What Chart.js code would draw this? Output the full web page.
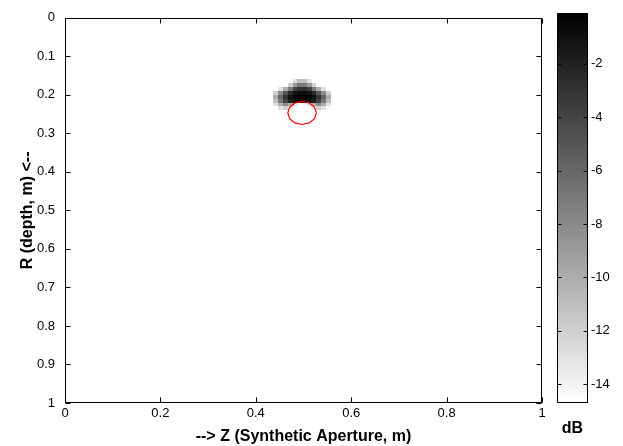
<!DOCTYPE html>
<html>
<head>
<meta charset="utf-8">
<script src="https://cdn.jsdelivr.net/npm/chart.js@4/dist/chart.umd.min.js"></script>
<style>
  html, body { margin: 0; padding: 0; background: #fff; }
  #wrap { position: relative; width: 623px; height: 446px; }
  #wrap canvas { position: absolute; left: 0; top: 0; }
</style>
</head>
<body>
<div id="wrap">
  <canvas id="imageChart" width="623" height="446"></canvas>
  <canvas id="colorbar" width="623" height="446"></canvas>
</div>
<script>
// axis ticks
const zTicks = [0, 0.2, 0.4, 0.6, 0.8, 1];
const rTicks = [0, 0.1, 0.2, 0.3, 0.4, 0.5, 0.6, 0.7, 0.8, 0.9, 1];
const cbTicks = [-14, -12, -10, -8, -6, -4, -2];

// colour limits of the image (dB)
const cbMin = -14.7;
const cbMax = -0.1;

// image cells around the target (cell centres in m, values in dB, null = below range)
const zCols = [0.442, 0.452, 0.462, 0.472, 0.482, 0.492, 0.502, 0.512, 0.522, 0.532, 0.542, 0.552];
const rRows = [0.165, 0.175, 0.185, 0.195, 0.205, 0.215, 0.225, 0.235];
const dBRows = [
  [null, null, null, null, -13, -11, -11, -13, null, null, null, null],
  [null, null, null, -12, -9, -7, -7, -9, -12, null, null, null],
  [null, -13, -10, -7, -4, -3, -3, -4, -7, -10, -13, null],
  [-12, -8, -5, -2.5, -1.2, -0.8, -0.8, -1.2, -2.5, -5, -8, -12],
  [-10, -6, -3, -1.2, -0.4, -0.1, -0.1, -0.4, -1.2, -3, -6, -10],
  [-11, -7, -4, -2, -1, -0.6, -0.6, -1, -2, -4, -7, -11],
  [-13, -10, -8, -10, -13, null, null, -13, -10, -8, -10, -13],
  [null, -13, -12, -14, null, null, null, null, -14, -12, -13, null]
];
const cellW = 0.01;
const cellH = 0.01;

// outline of the true target position
const circleZ = [0.527, 0.523, 0.512, 0.497, 0.482, 0.471, 0.467, 0.471, 0.482, 0.497, 0.512, 0.523, 0.527];
const circleR = [0.247, 0.262, 0.273, 0.277, 0.273, 0.262, 0.247, 0.232, 0.221, 0.217, 0.221, 0.232, 0.247];

Chart.defaults.font.family = "'Liberation Sans', Arial, sans-serif";
Chart.defaults.font.size = 13;
Chart.defaults.color = '#000';

const titleFont = { size: 16, weight: 'bold' };
const plainLabel = v => String(v);

const grayFor = (v) => {
  const c = Math.max(cbMin, Math.min(cbMax, v));
  const g = Math.round(255 * (cbMax - c) / (cbMax - cbMin));
  return `rgb(${g},${g},${g})`;
};

// paints the dB cells under the datasets
const heatmap = {
  id: 'heatmap',
  beforeDatasetsDraw(chart) {
    const { ctx, scales: { x, y } } = chart;
    ctx.save();
    rRows.forEach((r, i) => {
      zCols.forEach((z, j) => {
        const v = dBRows[i][j];
        if (v === null) return;
        const x0 = Math.round(x.getPixelForValue(z - cellW / 2));
        const x1 = Math.round(x.getPixelForValue(z + cellW / 2));
        const y0 = Math.round(y.getPixelForValue(r - cellH / 2));
        const y1 = Math.round(y.getPixelForValue(r + cellH / 2));
        ctx.fillStyle = grayFor(v);
        ctx.fillRect(x0, y0, x1 - x0, y1 - y0);
      });
    });
    ctx.restore();
  }
};

// box around the plot with inward tick marks
const boxTicks = {
  id: 'boxTicks',
  afterDraw(chart, args, opts) {
    const { ctx, chartArea: a } = chart;
    const L = Math.round(a.left) + 0.5, R = Math.round(a.right) - 0.5;
    const T = Math.round(a.top) + 0.5, B = Math.round(a.bottom) - 0.5;
    const len = opts.len || 5;
    ctx.save();
    ctx.strokeStyle = '#000';
    ctx.lineWidth = 1;
    ctx.strokeRect(L, T, R - L, B - T);
    ctx.beginPath();
    (opts.axes || []).forEach(id => {
      const sc = chart.scales[id];
      sc.ticks.forEach(t => {
        const p = Math.round(sc.getPixelForValue(t.value)) + 0.5;
        if (sc.isHorizontal()) {
          ctx.moveTo(p, T); ctx.lineTo(p, T + len);
          ctx.moveTo(p, B); ctx.lineTo(p, B - len);
        } else {
          ctx.moveTo(L, p); ctx.lineTo(L + len, p);
          ctx.moveTo(R, p); ctx.lineTo(R - len, p);
        }
      });
    });
    ctx.stroke();
    ctx.restore();
  }
};

new Chart(document.getElementById('imageChart'), {
  type: 'scatter',
  data: {
    datasets: [{
      data: circleZ.map((z, i) => ({ x: z, y: circleR[i] })),
      showLine: true,
      borderColor: '#ff0000',
      borderWidth: 1.2,
      pointRadius: 0,
      fill: false
    }]
  },
  options: {
    responsive: false,
    animation: false,
    layout: { padding: { left: 0, top: 13, right: 81, bottom: 0 } },
    plugins: { legend: { display: false }, tooltip: { enabled: false }, boxTicks: { len: 5, axes: ['x', 'y'] } },
    scales: {
      x: {
        type: 'linear', min: 0, max: 1,
        afterBuildTicks: s => { s.ticks = zTicks.map(v => ({ value: v })); },
        afterFit: s => { s.height = 43; },
        grid: { display: false, drawTicks: false },
        border: { display: false },
        ticks: { padding: 3, callback: plainLabel },
        title: { display: true, text: '--> Z (Synthetic Aperture, m)', font: titleFont, padding: { top: 0, bottom: 0 } }
      },
      y: {
        type: 'linear', min: 0, max: 1, reverse: true,
        afterBuildTicks: s => { s.ticks = rTicks.map(v => ({ value: v })); },
        afterFit: s => { s.width = 65; },
        grid: { display: false, drawTicks: false },
        border: { display: false },
        ticks: { padding: 10, callback: plainLabel },
        title: { display: true, text: 'R (depth, m) <--', font: titleFont, padding: { top: 18, bottom: 0 } }
      }
    }
  },
  plugins: [heatmap, boxTicks]
});

new Chart(document.getElementById('colorbar'), {
  type: 'bar',
  data: {
    labels: [''],
    datasets: [{
      data: [[cbMin, cbMax]],
      borderWidth: 0,
      barPercentage: 1,
      categoryPercentage: 1,
      backgroundColor: (c) => {
        const { chart } = c;
        if (!chart.chartArea) return '#888';
        const ys = chart.scales.y;
        const g = chart.ctx.createLinearGradient(0, ys.getPixelForValue(cbMin), 0, ys.getPixelForValue(cbMax));
        g.addColorStop(0, '#ffffff');
        g.addColorStop(1, '#000000');
        return g;
      }
    }]
  },
  options: {
    responsive: false,
    animation: false,
    layout: { padding: { left: 557, top: 13, right: 0, bottom: 0 } },
    plugins: { legend: { display: false }, tooltip: { enabled: false }, boxTicks: { len: 4, axes: ['y'] } },
    scales: {
      x: {
        afterFit: s => { s.height = 43; },
        grid: { display: false },
        border: { display: false },
        ticks: { display: false },
        title: { display: true, text: 'dB', font: titleFont, padding: { top: 0, bottom: 8 } }
      },
      y: {
        position: 'right', min: cbMin, max: cbMax,
        afterBuildTicks: s => { s.ticks = cbTicks.map(v => ({ value: v })); },
        afterFit: s => { s.width = 35; },
        grid: { display: false, drawTicks: false },
        border: { display: false },
        ticks: { padding: 3, callback: plainLabel }
      }
    }
  },
  plugins: [boxTicks]
});
</script>
</body>
</html>
